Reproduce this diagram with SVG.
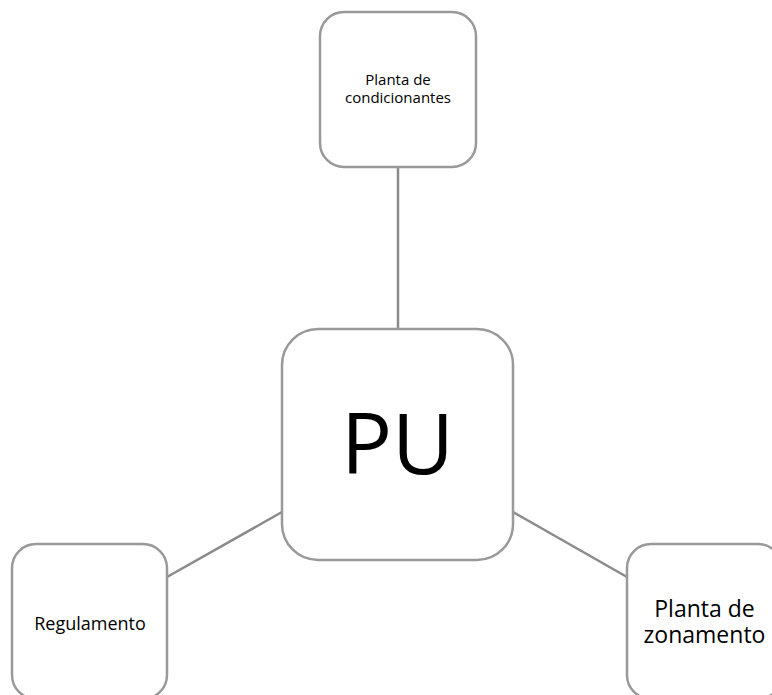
<svg xmlns="http://www.w3.org/2000/svg" width="772" height="695" viewBox="0 0 772 695">
  <style>
    .node { fill: #ffffff; stroke: #999999; stroke-width: 2.5; }
    .link { stroke: #8a8a8a; stroke-width: 2.5; fill: none; }
    .label { font-family: "Open Sans", "Noto Sans", sans-serif; fill: #000000; text-anchor: middle; }
  </style>
  <rect width="772" height="695" fill="#ffffff"/>
  <g id="connectors">
    <line class="link" x1="398" y1="167" x2="398" y2="329"/>
    <line class="link" x1="167" y1="577" x2="282" y2="512"/>
    <line class="link" x1="513" y1="512" x2="627" y2="577"/>
  </g>
  <g id="node-condicionantes">
    <rect class="node" x="320" y="12" width="156" height="155" rx="24"/>
    <text class="label" x="398" y="85" font-size="15">Planta de</text>
    <text class="label" x="398" y="103" font-size="15">condicionantes</text>
  </g>
  <g id="node-pu">
    <rect class="node" x="282" y="329" width="231" height="231" rx="36"/>
    <text class="label" x="397.5" y="474" font-size="85">PU</text>
  </g>
  <g id="node-regulamento">
    <rect class="node" x="12" y="544" width="155" height="155" rx="24"/>
    <text class="label" x="90" y="630" font-size="18">Regulamento</text>
  </g>
  <g id="node-zonamento">
    <rect class="node" x="627" y="544" width="155" height="155" rx="24"/>
    <text class="label" x="704.5" y="617" font-size="23">Planta de</text>
    <text class="label" x="704.5" y="643" font-size="23">zonamento</text>
  </g>
</svg>
